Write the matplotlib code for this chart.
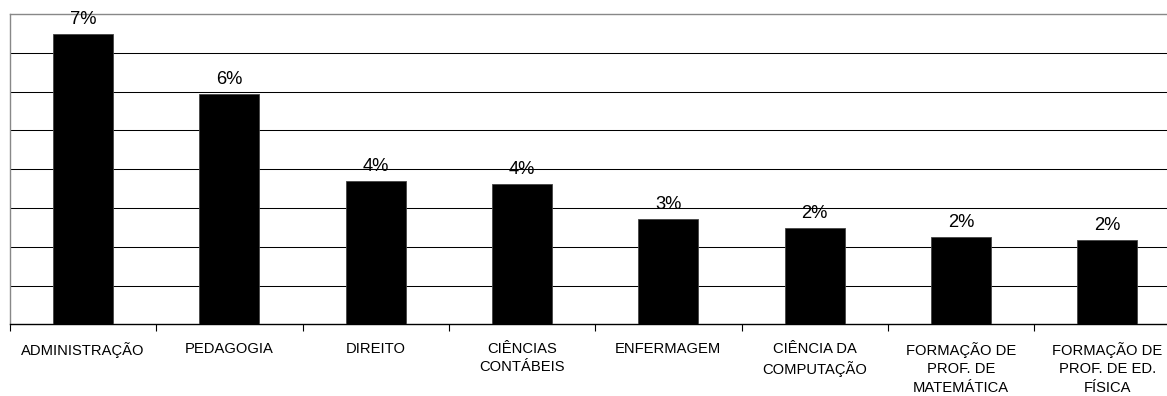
import matplotlib
matplotlib.use("Agg")
import matplotlib.pyplot as plt

# Share of enrolments by undergraduate course (%)
courses = [
    "ADMINISTRAÇÃO",
    "PEDAGOGIA",
    "DIREITO",
    "CIÊNCIAS\nCONTÁBEIS",
    "ENFERMAGEM",
    "CIÊNCIA DA\nCOMPUTAÇÃO",
    "FORMAÇÃO DE\nPROF. DE\nMATEMÁTICA",
    "FORMAÇÃO DE\nPROF. DE ED.\nFÍSICA",
]
shares = [7.49, 5.94, 3.69, 3.63, 2.72, 2.49, 2.25, 2.18]
y_max = 8

plt.rcParams["font.family"] = ["Liberation Sans", "DejaVu Sans"]

fig = plt.figure(figsize=(11.67, 3.96), dpi=100)
ax = fig.add_axes([10 / 1167, 71.7 / 396, 1170.4 / 1167, 310.3 / 396])

x = list(range(len(courses)))
ax.bar(x, shares, width=0.41, color="black", edgecolor="#444444",
       linewidth=0.6, zorder=3)

for xi, v in zip(x, shares):
    ax.annotate(f"{v:.0f}%", (xi, v), xytext=(0, 7.2), textcoords="offset points",
                ha="center", va="baseline", fontsize=13.2, color="black",
                zorder=4)

ax.set_xlim(-0.5, len(courses) - 0.5)
ax.set_ylim(0, y_max)

# horizontal gridlines every 1 %
for g in range(1, y_max):
    ax.axhline(g, color="black", linewidth=0.75, zorder=1)

ax.set_yticks([])
ax.set_xticks([i - 0.5 for i in range(len(courses) + 1)], minor=False)
ax.set_xticklabels([])
ax.set_xticks(x, minor=True)
ax.set_xticklabels(courses, minor=True, fontsize=10.6, linespacing=1.42)
ax.tick_params(axis="x", which="major", length=5, width=0.8, color="black",
               direction="out")
ax.tick_params(axis="x", which="minor", length=0, pad=12.5)

for side in ("top", "left", "right"):
    ax.spines[side].set_color("#888888")
    ax.spines[side].set_linewidth(1.0)
ax.spines["bottom"].set_color("black")
ax.spines["bottom"].set_linewidth(1.0)

fig.savefig("out.png", dpi=100)
